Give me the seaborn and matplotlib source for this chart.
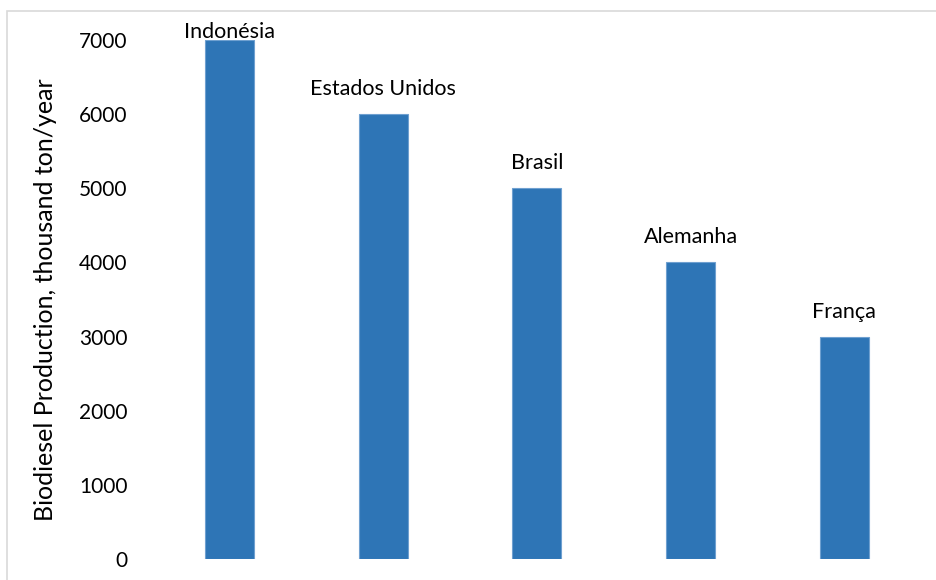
import matplotlib
matplotlib.use('Agg')
import matplotlib.pyplot as plt
import seaborn as sns
import pandas as pd

# data
countries = ['Indonésia', 'Estados Unidos', 'Brasil', 'Alemanha', 'França']
production = [7000, 6000, 5000, 4000, 3000]

df = pd.DataFrame({'country': countries, 'production': production})

sns.set_style('white')
plt.rcParams['font.family'] = ['Lato', 'DejaVu Sans']
plt.rcParams['text.color'] = 'black'
plt.rcParams['ytick.color'] = 'black'
plt.rcParams['axes.labelcolor'] = 'black'

fig = plt.figure(figsize=(9.37, 5.8), dpi=100)
ax = fig.add_axes([0.163, 0.036, 0.82, 0.895])

sns.barplot(data=df, x='country', y='production', color='#2E75B6',
            width=0.32, saturation=1, edgecolor='#6FA0D0', linewidth=0.8, ax=ax)

ax.set_ylim(0, 7000)
ax.set_yticks(range(0, 7001, 1000))
ax.tick_params(axis='y', labelsize=15, length=0, pad=18)
ax.set_xticks([])
ax.set_xlabel('')
ax.set_ylabel('Biodiesel Production, thousand ton/year', fontsize=18, labelpad=16)
sns.despine(ax=ax, left=True, bottom=True)

# data labels above the bars
for i, (name, val) in enumerate(zip(countries, production)):
    off = 6 if i == 0 else 18
    ax.annotate(name, (i, val), xytext=(0, off), textcoords='offset points',
                ha='center', va='center', fontsize=15.5, annotation_clip=False)

# light frame, only top and left edges visible
frame = plt.Rectangle((0.0075, -0.1), 1.1, 1.081, transform=fig.transFigure,
                      fill=False, edgecolor='#D9D9D9', linewidth=1.2)
fig.patches.append(frame)

fig.savefig('out.png', dpi=100)
